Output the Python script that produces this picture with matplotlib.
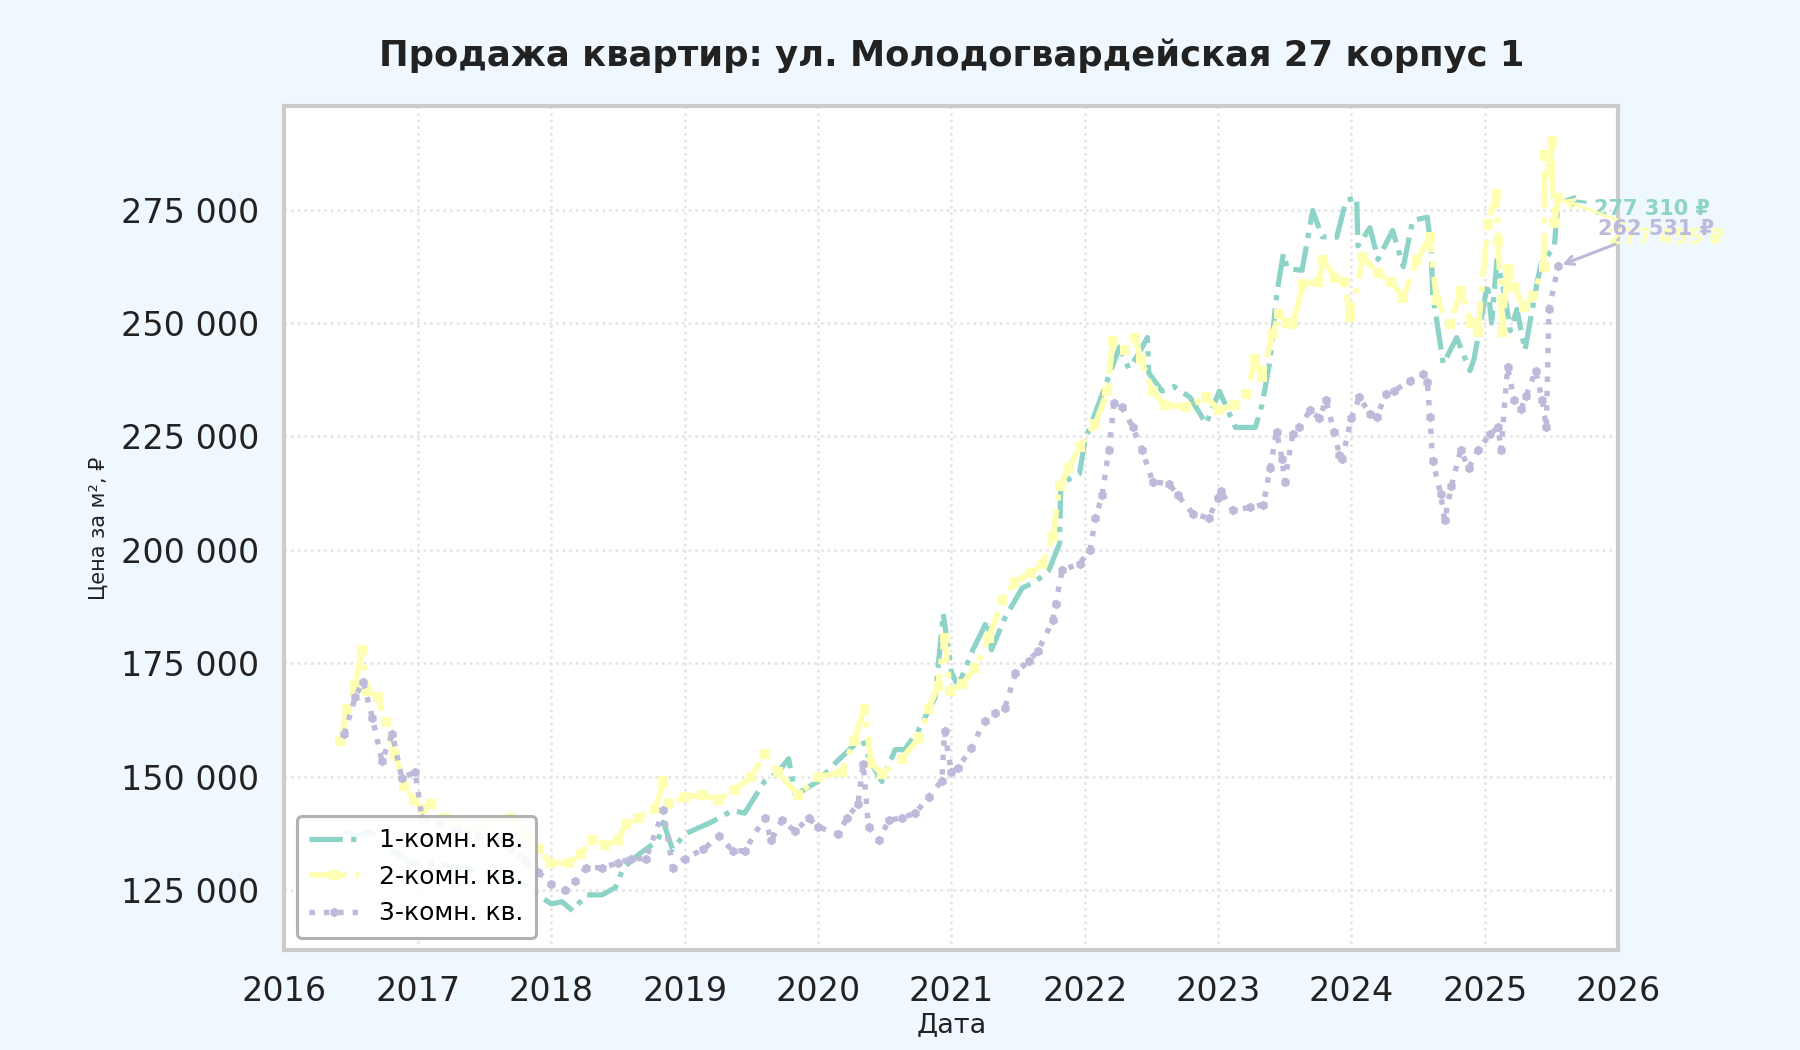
from datetime import datetime, timedelta
import matplotlib
matplotlib.use("Agg")
import matplotlib.pyplot as plt
import matplotlib.dates as mdates
from matplotlib.ticker import FuncFormatter, MultipleLocator

# dates as decimal years, prices in thousands of rubles per m2
t1 = [2016.45, 2016.55, 2016.65, 2016.75, 2016.85, 2016.95, 2017.1, 2017.3, 2017.5, 2017.7,
      2017.8, 2017.9, 2018.0, 2018.08, 2018.16, 2018.26, 2018.38, 2018.48, 2018.54, 2018.66,
      2018.8, 2018.84, 2018.91, 2019.0, 2019.2, 2019.36, 2019.45, 2019.6, 2019.7, 2019.78,
      2019.83, 2020.0, 2020.15, 2020.33, 2020.4, 2020.48, 2020.58, 2020.65, 2020.75, 2020.88,
      2020.94, 2021.0, 2021.05, 2021.16, 2021.27, 2021.3, 2021.4, 2021.53, 2021.63, 2021.73,
      2021.81, 2021.82, 2021.96, 2022.0, 2022.15, 2022.26, 2022.33, 2022.4, 2022.47, 2022.48,
      2022.58, 2022.67, 2022.79, 2022.91, 2023.01, 2023.13, 2023.28, 2023.33, 2023.39, 2023.44,
      2023.49, 2023.52, 2023.63, 2023.71, 2023.78, 2023.89, 2023.96, 2024.04, 2024.05, 2024.14,
      2024.2, 2024.31, 2024.39, 2024.46, 2024.57, 2024.6, 2024.61, 2024.69, 2024.79, 2024.89,
      2024.92, 2025.02, 2025.05, 2025.09, 2025.15, 2025.19, 2025.24, 2025.3, 2025.39, 2025.42,
      2025.52, 2025.55]
room1 = [138, 137, 138, 135, 133, 131, 131, 130, 129, 128,
         126, 124, 122, 122.5, 120.5, 124, 124, 125.6, 130, 133,
         136, 140, 134, 137.4, 140, 142.6, 142, 149, 151, 154,
         146, 149, 153.6, 158.6, 153, 149, 156, 156, 160, 167.5,
         186, 173, 170, 178, 184.5, 178, 185, 191.6, 193, 195.5,
         201.4, 214.6, 216.8, 224, 235.8, 244.7, 240, 243, 246.8, 239,
         235, 236, 233.6, 227.8, 235, 227, 227, 232, 241.7, 256.4,
         265.3, 262, 261.6, 274.8, 269, 268.9, 277, 277.7, 267, 271,
         264, 270.4, 262.4, 272.6, 273.3, 266, 256.4, 241, 246.8, 239.5,
         242, 258.7, 250, 263.8, 256, 248.3, 253, 244, 258.7, 263,
         266.7, 277.31]

t2 = [2016.42, 2016.47, 2016.53, 2016.58, 2016.62, 2016.7, 2016.76, 2016.83, 2016.9, 2016.97,
      2017.03, 2017.1, 2017.2, 2017.35, 2017.5, 2017.6, 2017.7, 2017.8, 2017.9, 2018.0,
      2018.13, 2018.22, 2018.31, 2018.4, 2018.5, 2018.56, 2018.65, 2018.78, 2018.84, 2018.88,
      2019.0, 2019.13, 2019.25, 2019.37, 2019.5, 2019.6, 2019.7, 2019.85, 2020.0, 2020.18,
      2020.27, 2020.35, 2020.4, 2020.48, 2020.63, 2020.76, 2020.83, 2020.9, 2020.95, 2020.99,
      2021.08, 2021.18, 2021.28, 2021.38, 2021.48, 2021.6, 2021.68, 2021.76, 2021.81, 2021.88,
      2021.96, 2022.08, 2022.17, 2022.21, 2022.3, 2022.38, 2022.42, 2022.51, 2022.6, 2022.76,
      2022.91, 2023.01, 2023.13, 2023.21, 2023.28, 2023.33, 2023.41, 2023.46, 2023.52, 2023.56,
      2023.64, 2023.75, 2023.79, 2023.88, 2023.95, 2023.99, 2024.09, 2024.2, 2024.3, 2024.39,
      2024.49, 2024.59, 2024.64, 2024.74, 2024.82, 2024.9, 2024.95, 2025.02, 2025.09, 2025.1,
      2025.13, 2025.17, 2025.22, 2025.29, 2025.36, 2025.44, 2025.45, 2025.49, 2025.5, 2025.52,
      2025.55]
room2 = [158, 165, 170, 178, 169, 167.5, 162, 155, 148, 145,
         143, 144, 141, 139, 139, 140, 141, 138, 134, 131,
         131, 133, 136, 135, 136, 139.7, 141, 143, 149, 144,
         145.5, 146, 145, 147, 150, 155, 151, 146, 150, 151,
         158, 165, 153, 150.7, 154, 158.6, 165, 170, 180.7, 169,
         170.5, 174, 180.7, 188.9, 193, 195, 197, 202.8, 214, 218,
         222.7, 227.8, 235, 246, 244, 246.8, 242, 235, 232, 231.4,
         233.6, 230.8, 232, 234.4, 242, 238, 247.6, 252, 250, 249.8,
         258.7, 259, 263.8, 260, 259, 251.3, 264.5, 261, 259, 255.6,
         263.8, 268.9, 255, 249.8, 257, 250, 248, 271.9, 278.5, 268,
         248, 262, 258, 253.5, 256, 262.3, 287, 283, 290, 272,
         277.455]

t3 = [2016.45, 2016.53, 2016.59, 2016.66, 2016.73, 2016.81, 2016.88, 2016.98, 2017.03, 2017.16,
      2017.3, 2017.45, 2017.6, 2017.7, 2017.8, 2017.9, 2018.0, 2018.1, 2018.18, 2018.26,
      2018.38, 2018.5, 2018.6, 2018.71, 2018.84, 2018.91, 2019.0, 2019.14, 2019.26, 2019.36,
      2019.45, 2019.6, 2019.65, 2019.73, 2019.83, 2019.93, 2020.0, 2020.15, 2020.22, 2020.3,
      2020.34, 2020.38, 2020.46, 2020.53, 2020.63, 2020.73, 2020.83, 2020.93, 2020.95, 2021.0,
      2021.05, 2021.15, 2021.25, 2021.33, 2021.4, 2021.48, 2021.58, 2021.65, 2021.76, 2021.78,
      2021.83, 2021.96, 2022.04, 2022.08, 2022.13, 2022.18, 2022.22, 2022.28, 2022.36, 2022.43,
      2022.51, 2022.63, 2022.7, 2022.81, 2022.93, 2023.0, 2023.02, 2023.11, 2023.24, 2023.34,
      2023.39, 2023.44, 2023.48, 2023.5, 2023.56, 2023.61, 2023.69, 2023.76, 2023.81, 2023.87,
      2023.91, 2023.93, 2024.0, 2024.06, 2024.14, 2024.19, 2024.26, 2024.32, 2024.44, 2024.54,
      2024.57, 2024.59, 2024.61, 2024.67, 2024.7, 2024.75, 2024.82, 2024.88, 2024.95, 2025.04,
      2025.1, 2025.12, 2025.17, 2025.22, 2025.27, 2025.31, 2025.38, 2025.43, 2025.46, 2025.48,
      2025.55]
room3 = [159.5, 167.5, 171, 163, 153.6, 159.4, 149.8, 151, 141, 140,
         138, 137, 136, 134, 131.6, 129, 126.5, 125, 127, 130,
         130, 131, 132, 132, 142.6, 130, 132, 134, 137, 133.7,
         133.7, 141, 136, 140.4, 138, 141, 139, 137.4, 141, 144,
         152.8, 139, 136, 140.4, 141, 142, 145.5, 149.2, 160, 151,
         152, 156.4, 162.4, 164, 165.2, 172.8, 175.6, 177.8, 184.5, 188,
         195.5, 197, 200, 207, 212, 222, 232.3, 231.5, 227, 222,
         215, 214.6, 212, 208, 207, 211.5, 213, 208.7, 209.4, 210,
         218, 226, 220, 215, 225.6, 227, 230.8, 229, 233, 226,
         221, 220, 229, 233.6, 230, 229.3, 234.4, 235, 237.3, 238.8,
         237, 229.2, 219.7, 212.4, 206.5, 214, 222, 218, 222, 225.6,
         227, 222, 240.2, 233, 231, 234, 239.5, 233, 227, 253,
         262.531]

labels = ["1-комн. кв.", "2-комн. кв.", "3-комн. кв."]
colors = ["#8dd3c7", "#ffffb3", "#bebada"]


def to_date(y):
    year = int(y)
    return datetime(year, 1, 1) + timedelta(days=(y - year) * 365.25)


def rub(v):
    return "{:,.0f}".format(v).replace(",", " ")


fig, ax = plt.subplots(figsize=(12, 7), dpi=150)
fig.patch.set_facecolor("#f0f8ff")
ax.set_facecolor("white")
plt.subplots_adjust(left=0.158, right=0.899, top=0.899, bottom=0.095)

series = [(t1, room1), (t2, room2), (t3, room3)]
styles = [dict(linestyle="-.", linewidth=2.5),
          dict(linestyle="-.", linewidth=2.8, marker="s", markersize=4),
          dict(linestyle=":", linewidth=2.6, marker="h", markersize=3.5)]

for (t, v), lab, c, st in zip(series, labels, colors, styles):
    dates = [to_date(x) for x in t]
    vals = [p * 1000 for p in v]
    ax.plot(dates, vals, color=c, label=lab, **st)

# labels for the last values
offsets = [(17, -5), (24, -19), (19, 18)]
for (t, v), c, off in zip(series, colors, offsets):
    last = v[-1] * 1000
    ax.annotate(rub(last) + " ₽", xy=(to_date(t[-1]), last), xytext=off,
                textcoords="offset points", ha="left", va="center",
                fontsize=10, fontweight="bold", color=c,
                arrowprops=dict(arrowstyle="->", color=c, lw=1.5))

ax.set_xlim(datetime(2016, 1, 1), datetime(2026, 1, 1))
ax.set_ylim(111800, 297800)
ax.xaxis.set_major_locator(mdates.YearLocator())
ax.xaxis.set_major_formatter(mdates.DateFormatter("%Y"))
ax.yaxis.set_major_locator(MultipleLocator(25000))
ax.yaxis.set_major_formatter(FuncFormatter(lambda x, pos: rub(x)))

ax.grid(True, linestyle=":", color="#e3e3e3", linewidth=1.2)
for s in ax.spines.values():
    s.set_color("#cccccc")
    s.set_linewidth(2)
ax.tick_params(axis="both", length=0, pad=12, labelsize=16, labelcolor="#222222")

ax.set_title("Продажа квартир: ул. Молодогвардейская 27 корпус 1",
             fontsize=17, fontweight="bold", color="#222222", pad=19)
ax.set_xlabel("Дата", fontsize=13, color="#222222", labelpad=2)
ax.set_ylabel("Цена за м², ₽", fontsize=10, color="#222222", labelpad=6)

leg = ax.legend(loc="lower left", fontsize=12, frameon=True, framealpha=0.9,
                edgecolor="#aaaaaa", borderpad=0.5)
leg.get_frame().set_linewidth(1.5)

plt.savefig("out.png", dpi=150, facecolor=fig.get_facecolor())
